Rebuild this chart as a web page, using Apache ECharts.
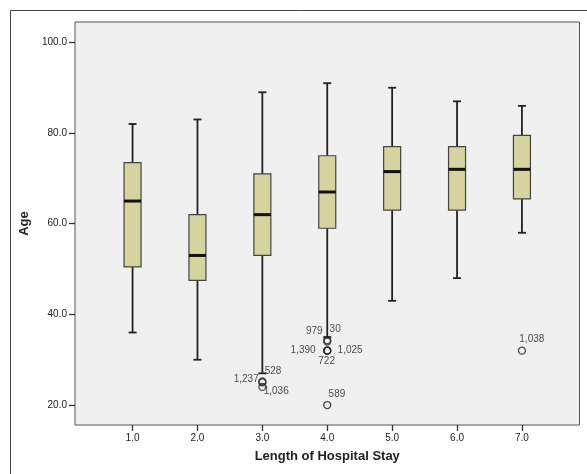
<!DOCTYPE html>
<html>
<head>
<meta charset="utf-8">
<script src="https://cdn.jsdelivr.net/npm/echarts@6/dist/echarts.min.js"></script>
<style>
html,body{margin:0;padding:0;background:#fff;}
#chart{width:587px;height:474px;}
</style>
</head>
<body>
<div id="chart"></div>
<script>
// ---- data ----
const categories = [1, 2, 3, 4, 5, 6, 7];
const whiskerLow  = [36, 30, 27, 35, 43, 48, 58];
const q1Values    = [50.5, 47.5, 53, 59, 63, 63, 65.5];
const medians     = [65, 53, 62, 67, 71.5, 72, 72];
const q3Values    = [73.5, 62, 71, 75, 77, 77, 79.5];
const whiskerHigh = [82, 83, 89, 91, 90, 87, 86];
const yTicks = [20, 40, 60, 80, 100];

const outlierIds  = ['1,237', '528', '1,036', '979', '30', '1,390', '1,025', '722', '589', '1,038'];
const outlierCat  = [3, 3, 3, 4, 4, 4, 4, 4, 4, 7];
const outlierAge  = [25.2, 25, 24, 34, 34.3, 32, 32, 32, 20, 32];

// label placement relative to the point centre (style only)
const labelPlace = {
  '1,237': {align: 'right', dx: -3, dy: -2},
  '528':   {align: 'left',  dx: 3,  dy: -10},
  '1,036': {align: 'left',  dx: 2,  dy: 5},
  '979':   {align: 'right', dx: -4, dy: -10},
  '30':    {align: 'left',  dx: 3,  dy: -10},
  '1,390': {align: 'right', dx: -11, dy: 0},
  '1,025': {align: 'left',  dx: 11, dy: 0},
  '722':   {align: 'center',dx: 0,  dy: 11},
  '589':   {align: 'left',  dx: 2,  dy: -10},
  '1,038': {align: 'left',  dx: -2, dy: -11}
};

const SYM = 7;
const boxData = categories.map((c, i) => [c, whiskerLow[i], q1Values[i], medians[i], q3Values[i], whiskerHigh[i]]);
const outlierData = outlierIds.map((id, i) => {
  const p = labelPlace[id];
  return {
    value: [outlierCat[i], outlierAge[i]],
    name: id,
    label: {show: true, position: [SYM / 2 + p.dx, SYM / 2 + p.dy], formatter: id, align: p.align, verticalAlign: 'middle'}
  };
});

const FONT = '"Liberation Sans", Arial, sans-serif';
const chart = echarts.init(document.getElementById('chart'), null, {renderer: 'canvas'});

chart.setOption({
  animation: false,
  backgroundColor: '#ffffff',
  graphic: [{
    type: 'rect', z: -10, silent: true,
    shape: {x: 10.5, y: 10.5, width: 700, height: 600},
    style: {fill: 'none', stroke: '#444', lineWidth: 1}
  }],
  grid: {
    left: 75, top: 22, right: 7.5, bottom: 49,
    show: true, backgroundColor: '#f0f0f0', borderColor: '#555', borderWidth: 1
  },
  xAxis: {
    type: 'value', min: 0.113, max: 7.887,
    name: 'Length of Hospital Stay', nameLocation: 'middle', nameGap: 25,
    nameTextStyle: {fontFamily: FONT, fontSize: 13, fontWeight: 'bold', color: '#222'},
    axisLine: {show: false},
    splitLine: {show: false},
    axisTick: {show: true, length: 6, lineStyle: {color: '#333', width: 1.3}, customValues: categories},
    axisLabel: {customValues: categories, formatter: v => v.toFixed(1), fontFamily: FONT, fontSize: 10, color: '#222', margin: 8}
  },
  yAxis: {
    type: 'value', min: 15.6, max: 104.5,
    name: 'Age', nameLocation: 'middle', nameGap: 40,
    nameTextStyle: {fontFamily: FONT, fontSize: 13, fontWeight: 'bold', color: '#222'},
    axisLine: {show: false},
    splitLine: {show: false},
    axisTick: {show: true, length: 6, lineStyle: {color: '#333', width: 1.3}, customValues: yTicks},
    axisLabel: {customValues: yTicks, formatter: v => v.toFixed(1), fontFamily: FONT, fontSize: 10, color: '#222', margin: 8}
  },
  series: [{
    type: 'custom',
    data: boxData,
    encode: {x: 0, y: [1, 2, 3, 4, 5]},
    renderItem: function (params, api) {
      const x = api.value(0);
      const lo = api.coord([x, api.value(1)]);
      const q1 = api.coord([x, api.value(2)]);
      const md = api.coord([x, api.value(3)]);
      const q3 = api.coord([x, api.value(4)]);
      const hi = api.coord([x, api.value(5)]);
      const half = 8.5, cap = 4;
      const ws = {stroke: '#222', lineWidth: 1.8};
      return {
        type: 'group',
        children: [
          {type: 'line', shape: {x1: hi[0], y1: hi[1], x2: q3[0], y2: q3[1]}, style: ws},
          {type: 'line', shape: {x1: q1[0], y1: q1[1], x2: lo[0], y2: lo[1]}, style: ws},
          {type: 'line', shape: {x1: hi[0] - cap, y1: hi[1], x2: hi[0] + cap, y2: hi[1]}, style: ws},
          {type: 'line', shape: {x1: lo[0] - cap, y1: lo[1], x2: lo[0] + cap, y2: lo[1]}, style: ws},
          {type: 'rect', shape: {x: q3[0] - half, y: q3[1], width: half * 2, height: q1[1] - q3[1]},
            style: {fill: '#d6d39e', stroke: '#444', lineWidth: 1.2}},
          {type: 'line', shape: {x1: md[0] - half, y1: md[1], x2: md[0] + half, y2: md[1]},
            style: {stroke: '#111', lineWidth: 3}}
        ]
      };
    }
  }, {
    type: 'scatter',
    data: outlierData,
    symbol: 'circle',
    symbolSize: SYM,
    itemStyle: {color: 'rgba(0,0,0,0)', borderColor: '#222', borderWidth: 1.3},
    label: {fontFamily: FONT, fontSize: 10, color: '#222'},
    labelLayout: {hideOverlap: false}
  }]
});
</script>
</body>
</html>
